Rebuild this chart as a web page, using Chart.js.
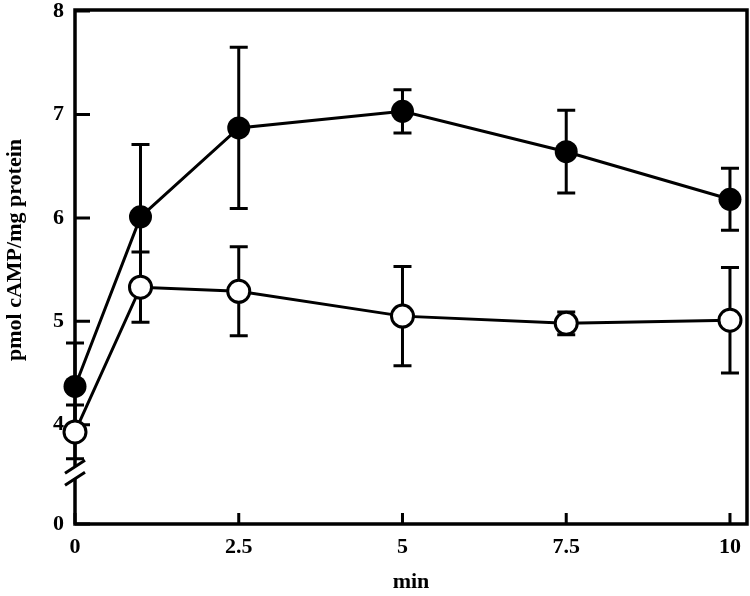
<!DOCTYPE html>
<html>
<head>
<meta charset="utf-8">
<script src="https://cdn.jsdelivr.net/npm/chart.js@4"></script>
<style>
  html, body { margin: 0; padding: 0; background: #fff; }
  #wrap { width: 750px; height: 596px; }
</style>
</head>
<body>
<div id="wrap"><canvas id="chart" width="750" height="596"></canvas></div>
<script>
// time points (min)
const times = [0, 1, 2.5, 5, 7.5, 10];
// filled circles
const filledMean = [4.37, 6.01, 6.87, 7.03, 6.64, 6.18];
const filledErr = [0.42, 0.70, 0.78, 0.21, 0.40, 0.30];
// open circles
const openMean = [3.93, 5.33, 5.29, 5.05, 4.98, 5.01];
const openErr = [0.26, 0.34, 0.43, 0.48, 0.11, 0.51];

// axis ticks; the bottom of the y axis is broken, "0" sits at yBase
const xTicks = [0, 2.5, 5, 7.5, 10];
const yBase = 3.04;
const yTicks = [yBase, 4, 5, 6, 7, 8];
const yTickLabels = ['0', '4', '5', '6', '7', '8'];

const FONT = '"Liberation Serif", "Times New Roman", serif';
const AXIS_W = 3.5;

const toXY = (xs, ys) => xs.map((x, i) => ({ x: x, y: ys[i] }));

// error bars behind the markers
const errorBars = {
  id: 'errorBars',
  beforeDatasetsDraw(chart) {
    const { ctx, scales: { x, y } } = chart;
    const sets = [[filledMean, filledErr], [openMean, openErr]];
    ctx.save();
    ctx.strokeStyle = '#000';
    ctx.lineWidth = 3;
    sets.forEach(([mean, err]) => {
      times.forEach((t, i) => {
        const px = x.getPixelForValue(t);
        const top = y.getPixelForValue(mean[i] + err[i]);
        const bot = y.getPixelForValue(mean[i] - err[i]);
        ctx.beginPath();
        ctx.moveTo(px, top); ctx.lineTo(px, bot);
        ctx.moveTo(px - 9, top); ctx.lineTo(px + 9, top);
        ctx.moveTo(px - 9, bot); ctx.lineTo(px + 9, bot);
        ctx.stroke();
      });
    });
    ctx.restore();
  }
};

// box frame, inward ticks, axis break, y title
const frame = {
  id: 'frame',
  beforeDatasetsDraw(chart) {
    const { ctx, chartArea: a, scales: { x, y } } = chart;
    ctx.save();
    ctx.strokeStyle = '#000';
    ctx.lineWidth = AXIS_W;
    ctx.beginPath();
    ctx.moveTo(a.left, a.bottom);
    ctx.lineTo(a.left, a.top);
    ctx.lineTo(a.right, a.top);
    ctx.lineTo(a.right, a.bottom);
    ctx.lineTo(a.left, a.bottom);
    ctx.closePath();
    ctx.stroke();

    ctx.lineWidth = 3;
    ctx.beginPath();
    yTicks.forEach(v => {
      const py = y.getPixelForValue(v);
      ctx.moveTo(a.left, py); ctx.lineTo(a.left + 15, py);
    });
    xTicks.forEach(v => {
      const px = x.getPixelForValue(v);
      ctx.moveTo(px, a.bottom); ctx.lineTo(px, a.bottom - 11);
    });
    ctx.stroke();

    // axis break
    const by = y.getPixelForValue(yBase + 0.5);
    ctx.fillStyle = '#fff';
    ctx.fillRect(a.left - 4, by - 6, 8, 12);
    ctx.lineWidth = 3;
    ctx.beginPath();
    ctx.moveTo(a.left - 10, by + 1); ctx.lineTo(a.left + 10, by - 12);
    ctx.moveTo(a.left - 10, by + 13); ctx.lineTo(a.left + 10, by);
    ctx.stroke();

    // y title
    ctx.fillStyle = '#000';
    ctx.font = 'bold 22px ' + FONT;
    ctx.textAlign = 'center';
    ctx.textBaseline = 'middle';
    ctx.translate(15, 250);
    ctx.rotate(-Math.PI / 2);
    ctx.fillText('pmol cAMP/mg protein', 0, 0);
    ctx.restore();
  }
};

new Chart(document.getElementById('chart'), {
  type: 'line',
  data: {
    datasets: [
      {
        label: 'open',
        data: toXY(times, openMean),
        borderColor: '#000',
        borderWidth: 3,
        pointRadius: 11,
        pointBorderWidth: 3,
        pointBackgroundColor: '#fff',
        pointBorderColor: '#000',
        tension: 0
      },
      {
        label: 'filled',
        data: toXY(times, filledMean),
        borderColor: '#000',
        borderWidth: 3,
        pointRadius: 11.5,
        pointBorderWidth: 0,
        pointBackgroundColor: '#000',
        pointBorderColor: '#000',
        tension: 0
      }
    ]
  },
  options: {
    responsive: false,
    animation: false,
    clip: false,
    layout: { autoPadding: false, padding: { top: 10, right: 3, left: 0, bottom: 0 } },
    plugins: { legend: { display: false }, tooltip: { enabled: false } },
    scales: {
      x: {
        type: 'linear',
        min: 0,
        max: 10.26,
        afterFit: s => { s.height = 72; s.paddingLeft = 0; s.paddingRight = 0; },
        afterBuildTicks: s => { s.ticks = xTicks.map(v => ({ value: v })); },
        grid: { display: false, drawTicks: false },
        border: { display: false },
        ticks: {
          padding: 10,
          color: '#000',
          maxRotation: 0,
          font: { family: FONT, size: 22, weight: 'bold' },
          callback: v => String(v)
        },
        title: {
          display: true,
          text: 'min',
          color: '#000',
          padding: { top: 0, bottom: 0 },
          font: { family: FONT, size: 22, weight: 'bold' }
        }
      },
      y: {
        type: 'linear',
        min: yBase,
        max: 8.01,
        afterFit: s => { s.width = 75; s.paddingTop = 0; s.paddingBottom = 0; },
        afterBuildTicks: s => { s.ticks = yTicks.map(v => ({ value: v })); },
        grid: { display: false, drawTicks: false },
        border: { display: false },
        ticks: {
          padding: 11,
          color: '#000',
          font: { family: FONT, size: 22, weight: 'bold' },
          callback: (v, i) => yTickLabels[i]
        }
      }
    }
  },
  plugins: [frame, errorBars]
});
</script>
</body>
</html>
